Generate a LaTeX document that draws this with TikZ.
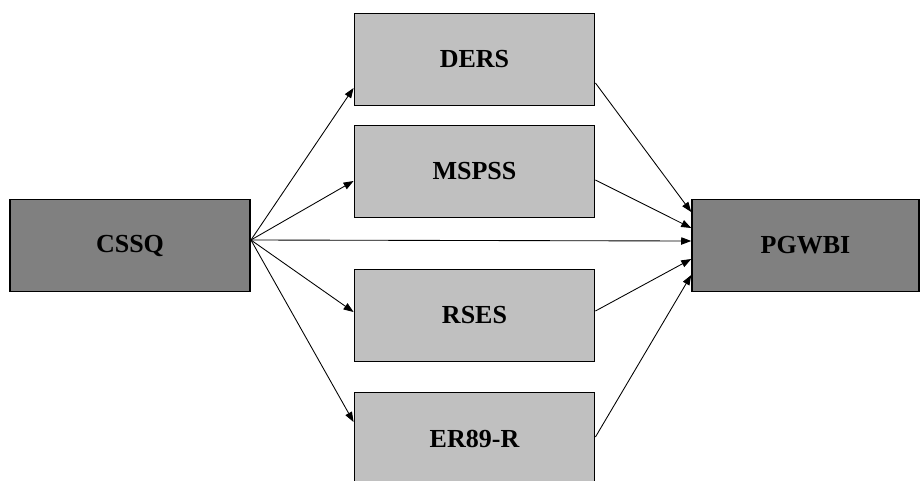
\documentclass[tikz,border=0pt]{standalone}
\usepackage{fontspec}
\setmainfont{Liberation Serif}
\usepackage{tikz}
\usetikzlibrary{arrows.meta,calc}
\definecolor{OutFill}{RGB}{128,128,128}
\definecolor{MidFill}{RGB}{192,192,192}
\tikzset{
  nd_end/.style={
    rectangle, draw=black, fill=OutFill, line width=1.4pt,
    minimum height=69pt, inner sep=0pt,
    font=\fontsize{19.5}{22}\selectfont\bfseries},
  nd_mid/.style={
    rectangle, draw=black, fill=MidFill, line width=1.4pt,
    minimum width=180pt, minimum height=69pt, inner sep=0pt,
    font=\fontsize{19.5}{22}\selectfont\bfseries},
  arr/.style={-{Triangle[length=7.5pt,width=5.5pt]},line width=0.65pt},
}
\begin{document}
\begin{tikzpicture}[x=0.75pt,y=0.75pt]
\useasboundingbox (0,0) rectangle (920,480);

%% ends
\node[nd_end,minimum width=180pt] at (130,234.5)   (cssq){CSSQ};
\node[nd_end,minimum width=170pt] at (805.5,234.5) (pgwbi){PGWBI};

%% middle
\node[nd_mid] at (474.5,420.5) (ders){DERS};
\node[nd_mid] at (474.5,308.5) (mspss){MSPSS};
\node[nd_mid] at (474.5,164.5) (rses){RSES};
\node[nd_mid] at (474.5,41.5)  (er){ER89-R};

\coordinate (src) at ($(cssq.east)+(0,5.5)$);

\draw[arr] (src)--($(ders.west)+(0,-28.5)$);
\draw[arr] (src)--($(mspss.west)+(0,-9.5)$);
\draw[arr] (src)--($(rses.west)+(0,3.5)$);
\draw[arr] (src)--($(er.west)+(0,16.5)$);
\draw[arr] (src)--($(pgwbi.west)+(0,4.5)$);

\draw[arr] ($(ders.east)+(0,-23.5)$)--($(pgwbi.west)+(0,33.5)$);
\draw[arr] ($(mspss.east)+(0,-8.5)$)--($(pgwbi.west)+(0,17.5)$);
\draw[arr] ($(rses.east)+(0,4.5)$)--($(pgwbi.west)+(0,-13.5)$);
\draw[arr] ($(er.east)+(0,1.5)$)--($(pgwbi.west)+(0,-29.5)$);

\end{tikzpicture}
\end{document}
